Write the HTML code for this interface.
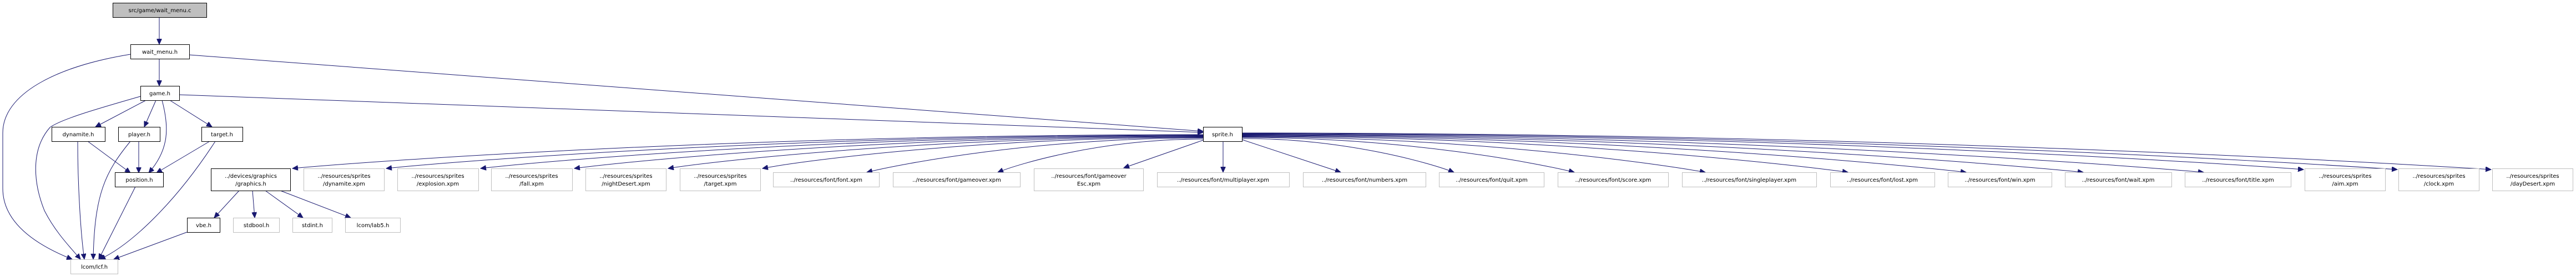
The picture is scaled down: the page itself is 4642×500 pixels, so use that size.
<!DOCTYPE html>
<html><head><meta charset="utf-8"><style>
html,body{margin:0;padding:0;background:#fff;}
svg{display:block;}
text{font-family:"DejaVu Sans","Liberation Sans",sans-serif;font-size:10px;fill:#000;}
.n{fill:#fff;stroke:#000;stroke-width:1;}
.g{fill:#fff;stroke:#bfbfbf;stroke-width:1;}
.e{fill:none;stroke:#191970;stroke-width:1;}
</style></head><body>
<svg width="4642" height="500" viewBox="0 0 4642 500" xmlns="http://www.w3.org/2000/svg">
<defs>
<marker id="a" markerUnits="userSpaceOnUse" markerWidth="11" markerHeight="9" refX="10" refY="4.5" orient="auto">
<path d="M0,0 L10,4.5 L0,9 Z" fill="#191970" stroke="#191970"/>
</marker>
</defs>
<g marker-end="url(#a)">
<!-- upper part -->
<path class="e" d="M287,32 L287,80"/>
<path class="e" d="M287,106 L287,155"/>
<path class="e" d="M235,98 C100,120 5,170 5,240 L5,340 C5,400 60,440 130,468"/>
<path class="e" d="M341,99 L2168,237"/>
<path class="e" d="M323,171 L2168,239"/>
<path class="e" d="M263,181 L172,229"/>
<path class="e" d="M281,181 L260,229"/>
<path class="e" d="M292,181 C305,230 305,270 268,312"/>
<path class="e" d="M306,181 L382,229"/>
<path class="e" d="M253,174 C180,195 110,215 90,230 C55,270 60,330 80,380 C100,420 130,450 145,468"/>
<path class="e" d="M140,255 C140,330 145,420 152,468"/>
<path class="e" d="M158,255 L235,312"/>
<path class="e" d="M250,255 L250,312"/>
<path class="e" d="M235,255 C190,310 170,350 168,468"/>
<path class="e" d="M378,255 L282,312"/>
<path class="e" d="M388,255 C320,360 240,440 180,468"/>
<path class="e" d="M244,337 L178,468"/>
<path class="e" d="M337,419 L205,468"/>
<path class="e" d="M431,344 L386,393"/>
<path class="e" d="M455,344 L459,393"/>
<path class="e" d="M478,344 L546,393"/>
<path class="e" d="M505,344 L632,393"/>
<!-- sprite.h left fan -->
<path class="e" d="M2168,243 C1347,243 691,289 527,304"/>
<path class="e" d="M2168,244 C1432,244 843,289 696,304"/>
<path class="e" d="M2168,245 C1517,245 996,289 866,304"/>
<path class="e" d="M2168,246 C1601,246 1148,289 1035,304"/>
<path class="e" d="M2168,247 C1686,247 1300,289 1204,304"/>
<path class="e" d="M2168,248 C1771,248 1453,289 1374,304"/>
<path class="e" d="M2168,249 C1865,249 1623,296 1562,311"/>
<path class="e" d="M2168,251 C1983,251 1835,296 1798,311"/>
<path class="e" d="M2168,253 L2025,303"/>
<path class="e" d="M2204,255 L2204,311"/>
<!-- sprite.h right fan -->
<path class="e" d="M2238,252 L2416,311"/>
<path class="e" d="M2238,250 C2429,250 2582,296 2620,311"/>
<path class="e" d="M2238,248 C2537,248 2777,296 2837,311"/>
<path class="e" d="M2238,247 C2655,247 2989,296 3073,311"/>
<path class="e" d="M2238,246 C2784,246 3221,296 3330,311"/>
<path class="e" d="M2238,245 C2890,245 3412,296 3543,311"/>
<path class="e" d="M2238,244 C2996,244 3602,296 3754,311"/>
<path class="e" d="M2238,243 C3104,243 3798,296 3971,311"/>
<path class="e" d="M2238,242 C3194,242 3960,292 4151,306"/>
<path class="e" d="M2238,241 C3279,241 4112,292 4320,306"/>
<path class="e" d="M2238,240 C3363,240 4264,292 4489,306"/>
</g>

<!-- nodes -->
<rect x="203.5" y="5.5" width="169" height="26" fill="#bfbfbf" stroke="#000"/>
<text x="288" y="22" text-anchor="middle">src/game/wait_menu.c</text>
<rect class="n" x="235.5" y="80.5" width="106" height="26"/><text x="288" y="97" text-anchor="middle">wait_menu.h</text>
<rect class="n" x="253.5" y="155.5" width="70" height="26"/><text x="288" y="172" text-anchor="middle">game.h</text>
<rect class="n" x="93.5" y="229.5" width="96" height="26"/><text x="141" y="246" text-anchor="middle">dynamite.h</text>
<rect class="n" x="213.5" y="229.5" width="75" height="26"/><text x="251" y="246" text-anchor="middle">player.h</text>
<rect class="n" x="363.5" y="229.5" width="74" height="26"/><text x="400" y="246" text-anchor="middle">target.h</text>
<rect class="n" x="207.5" y="311.5" width="87" height="26"/><text x="251" y="328" text-anchor="middle">position.h</text>
<rect class="n" x="2168.5" y="229.5" width="70" height="26"/><text x="2203" y="246" text-anchor="middle">sprite.h</text>
<rect class="n" x="380.5" y="304.5" width="143" height="40"/><text x="452" y="321" text-anchor="middle">../devices/graphics</text><text x="452" y="335" text-anchor="middle">/graphics.h</text>
<rect class="n" x="337.5" y="393.5" width="59" height="26"/><text x="367" y="410" text-anchor="middle">vbe.h</text>
<rect class="g" x="420.5" y="393.5" width="83" height="26"/><text x="462" y="410" text-anchor="middle">stdbool.h</text>
<rect class="g" x="527.5" y="393.5" width="71" height="26"/><text x="563" y="410" text-anchor="middle">stdint.h</text>
<rect class="g" x="622.5" y="393.5" width="99" height="26"/><text x="672" y="410" text-anchor="middle">lcom/lab5.h</text>
<rect class="g" x="127.5" y="468.5" width="85" height="26"/><text x="170" y="485" text-anchor="middle">lcom/lcf.h</text>

<rect class="g" x="547.5" y="304.5" width="145" height="40"/><text x="620" y="321" text-anchor="middle">../resources/sprites</text><text x="620" y="335" text-anchor="middle">/dynamite.xpm</text>
<rect class="g" x="716.5" y="304.5" width="146" height="40"/><text x="789" y="321" text-anchor="middle">../resources/sprites</text><text x="789" y="335" text-anchor="middle">/explosion.xpm</text>
<rect class="g" x="885.5" y="304.5" width="146" height="40"/><text x="958" y="321" text-anchor="middle">../resources/sprites</text><text x="958" y="335" text-anchor="middle">/fall.xpm</text>
<rect class="g" x="1055.5" y="304.5" width="145" height="40"/><text x="1128" y="321" text-anchor="middle">../resources/sprites</text><text x="1128" y="335" text-anchor="middle">/nightDesert.xpm</text>
<rect class="g" x="1225.5" y="304.5" width="145" height="40"/><text x="1298" y="321" text-anchor="middle">../resources/sprites</text><text x="1298" y="335" text-anchor="middle">/target.xpm</text>
<rect class="g" x="1393.5" y="311.5" width="191" height="26"/><text x="1489" y="328" text-anchor="middle">../resources/font/font.xpm</text>
<rect class="g" x="1609.5" y="311.5" width="229" height="26"/><text x="1724" y="328" text-anchor="middle">../resources/font/gameover.xpm</text>
<rect class="g" x="1863.5" y="304.5" width="197" height="40"/><text x="1962" y="321" text-anchor="middle">../resources/font/gameover</text><text x="1962" y="335" text-anchor="middle">Esc.xpm</text>
<rect class="g" x="2085.5" y="311.5" width="238" height="26"/><text x="2204" y="328" text-anchor="middle">../resources/font/multiplayer.xpm</text>
<rect class="g" x="2348.5" y="311.5" width="221" height="26"/><text x="2459" y="328" text-anchor="middle">../resources/font/numbers.xpm</text>
<rect class="g" x="2593.5" y="311.5" width="189" height="26"/><text x="2688" y="328" text-anchor="middle">../resources/font/quit.xpm</text>
<rect class="g" x="2807.5" y="311.5" width="199" height="26"/><text x="2907" y="328" text-anchor="middle">../resources/font/score.xpm</text>
<rect class="g" x="3031.5" y="311.5" width="242" height="26"/><text x="3152" y="328" text-anchor="middle">../resources/font/singleplayer.xpm</text>
<rect class="g" x="3298.5" y="311.5" width="188" height="26"/><text x="3392" y="328" text-anchor="middle">../resources/font/lost.xpm</text>
<rect class="g" x="3510.5" y="311.5" width="187" height="26"/><text x="3604" y="328" text-anchor="middle">../resources/font/win.xpm</text>
<rect class="g" x="3721.5" y="311.5" width="192" height="26"/><text x="3817" y="328" text-anchor="middle">../resources/font/wait.xpm</text>
<rect class="g" x="3937.5" y="311.5" width="191" height="26"/><text x="4033" y="328" text-anchor="middle">../resources/font/title.xpm</text>
<rect class="g" x="4153.5" y="304.5" width="145" height="40"/><text x="4226" y="321" text-anchor="middle">../resources/sprites</text><text x="4226" y="335" text-anchor="middle">/aim.xpm</text>
<rect class="g" x="4322.5" y="304.5" width="145" height="40"/><text x="4395" y="321" text-anchor="middle">../resources/sprites</text><text x="4395" y="335" text-anchor="middle">/clock.xpm</text>
<rect class="g" x="4491.5" y="304.5" width="145" height="40"/><text x="4564" y="321" text-anchor="middle">../resources/sprites</text><text x="4564" y="335" text-anchor="middle">/dayDesert.xpm</text>
</svg>
</body></html>
